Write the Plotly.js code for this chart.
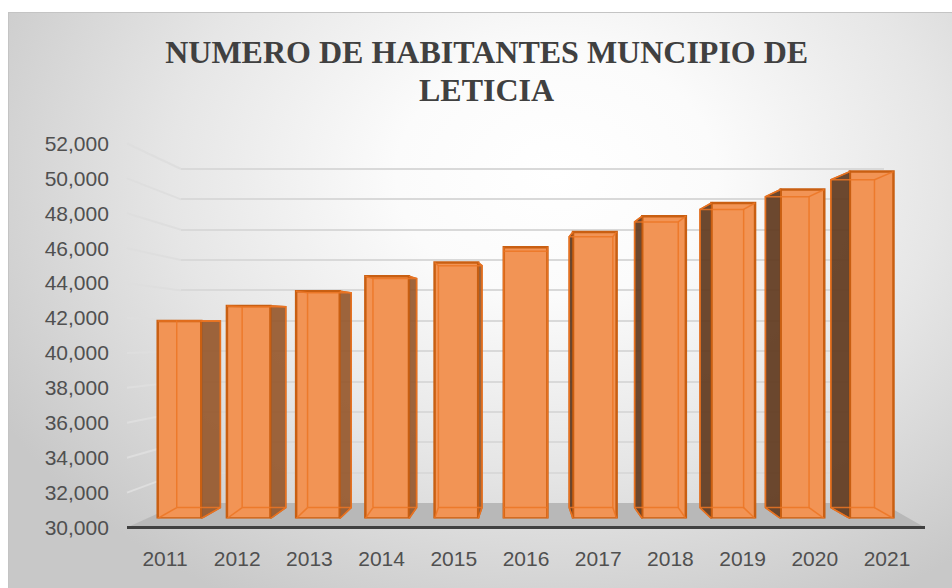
<!DOCTYPE html>
<html>
<head>
<meta charset="utf-8">
<script src="https://cdn.plot.ly/plotly-3.0.1.min.js"></script>
<style>
  html, body { margin: 0; padding: 0; background: #ffffff; }
  #wrap { position: relative; width: 952px; height: 588px; overflow: hidden; }
  #bg {
    position: absolute; left: 8px; top: 12px; width: 944px; height: 576px;
    border-left: 1px solid #c4c4c4; border-top: 1px solid #c4c4c4;
    background: radial-gradient(ellipse 68% 85% at 58% 28%, #ffffff 0%, #fbfbfb 25%, #e6e6e6 60%, #c8c8c8 100%);
  }
  #chart { position: absolute; left: 0; top: 0; width: 952px; height: 588px; }
</style>
</head>
<body>
<div id="wrap"><div id="bg"></div><div id="chart"></div></div>
<script>
// ---- data ----
const years = [2011, 2012, 2013, 2014, 2015, 2016, 2017, 2018, 2019, 2020, 2021];
const population = [41950, 42870, 43760, 44670, 45500, 46420, 47350, 48300, 49100, 49920, 51000];
const yTickValues = [30000, 32000, 34000, 36000, 38000, 40000, 42000, 44000, 46000, 48000, 50000, 52000];
const titleLines = ['NUMERO DE HABITANTES MUNCIPIO DE', 'LETICIA'];

// ---- geometry / style helpers ----
const W = 952, H = 588;
const px = p => p / W;
const py = p => 1 - p / H;
const yMin = 30000, yMax = 52000;
const barW = 0.63, half = barW / 2;
const vanishYear = 2016, depthPerYear = 0.055;
const eyeValue = 42000, backScale = 0.945;
const frontDom = [py(527.5), py(143.5)];
const backDom = [py(503), py(169)];
const backPad = 300;
const backTopPx = 169 - backPad * (503 - 169) / (yMax - yMin);

const traces = [];

traces.push({ x: years, y: population, xaxis: 'x', yaxis: 'y', type: 'scatter', mode: 'markers',
  marker: { opacity: 0 }, hoverinfo: 'skip', showlegend: false });
traces.push({ x: [0], y: [yMin], xaxis: 'x2', yaxis: 'y2', type: 'scatter', mode: 'markers',
  marker: { opacity: 0 }, hoverinfo: 'skip', showlegend: false });

traces.push({
  type: 'bar', x: years, y: population.map(v => v - yMin), base: yMin,
  xaxis: 'x3', yaxis: 'y3', width: barW,
  marker: { color: '#f29455', line: { color: '#c95f12', width: 2.5 } },
  customdata: population, hovertemplate: '%{x}: %{customdata:,}<extra></extra>',
  showlegend: false
});

const back = v => eyeValue + backScale * (v - eyeValue);
years.forEach((yr, i) => {
  const v = population[i];
  const s = depthPerYear * (vanishYear - yr);
  const bTop = back(v), bBot = back(yMin);
  const xL = yr - half, xR = yr + half;
  if (Math.abs(s) > 1e-6) {
    const edge = s > 0 ? xR : xL;
    traces.push({
      type: 'scatter', xaxis: 'x3', yaxis: 'y3', mode: 'lines', fill: 'toself',
      x: [edge, edge, edge + s, edge + s, edge],
      y: [yMin, v, bTop, bBot, yMin],
      fillcolor: s > 0 ? 'rgba(150,88,45,0.92)' : 'rgba(100,62,36,0.95)',
      line: { color: '#c95f12', width: 1.5 }, hoverinfo: 'skip', showlegend: false
    });
  }
  traces.push({
    type: 'scatter', xaxis: 'x3', yaxis: 'y3', mode: 'lines',
    x: [xL + s, xL + s, xR + s, xR + s, xL + s, null, xL, xL + s, null, xL, xL + s, null, xR, xR + s, null, xR, xR + s],
    y: [bBot, bTop, bTop, bBot, bBot, null, yMin, bBot, null, v, bTop, null, yMin, bBot, null, v, bTop],
    line: { color: 'rgba(236,118,36,0.85)', width: 1.5 }, hoverinfo: 'skip', showlegend: false
  });
});

const shapes = [];
const fy = v => frontDom[0] + (v - yMin) / (yMax - yMin) * (frontDom[1] - frontDom[0]);
const by = v => backDom[0] + (v - yMin) / (yMax - yMin) * (backDom[1] - backDom[0]);
yTickValues.slice(1).forEach(v => {
  shapes.push({ type: 'line', xref: 'paper', yref: 'paper', layer: 'below',
    x0: px(127), y0: fy(v), x1: px(181), y1: by(v), line: { color: '#dedede', width: 2 } });
});
shapes.push({ type: 'path', xref: 'paper', yref: 'paper', layer: 'below',
  path: `M ${px(127)} ${fy(yMin)} L ${px(925)} ${fy(yMin)} L ${px(882)} ${by(yMin)} L ${px(181)} ${by(yMin)} Z`,
  fillcolor: '#b8b8b8', line: { width: 0 } });
shapes.push({ type: 'line', xref: 'paper', yref: 'paper', layer: 'below',
  x0: px(127), y0: fy(yMin), x1: px(925), y1: fy(yMin), line: { color: '#404040', width: 3 } });

const tickFont = { family: 'Liberation Sans', size: 21, color: '#505050' };
const titleFont = { family: 'Liberation Serif', size: 32, color: '#404040', weight: 'bold' };

const layout = {
  width: W, height: H,
  margin: { l: 0, r: 0, t: 0, b: 0 },
  paper_bgcolor: 'rgba(0,0,0,0)', plot_bgcolor: 'rgba(0,0,0,0)',
  showlegend: false,
  title: {
    text: titleLines[0], x: 486.7 / W, xanchor: 'center', y: 1 - 52 / H, yanchor: 'middle', yref: 'container',
    font: titleFont
  },
  annotations: [{
    text: titleLines[1], xref: 'paper', yref: 'paper', x: px(486.7), y: py(89.5),
    xanchor: 'center', yanchor: 'middle', showarrow: false, font: titleFont
  }],
  xaxis: {
    domain: [px(128.9), px(923.1)], range: [2010.5, 2021.5], anchor: 'y',
    tickvals: years, ticktext: years.map(String), tickfont: tickFont,
    showgrid: false, zeroline: false, showline: false, ticks: '', ticklabelstandoff: 16, fixedrange: true
  },
  yaxis: {
    domain: frontDom, range: [yMin, yMax], anchor: 'x',
    tickvals: yTickValues, tickformat: ',d', tickfont: tickFont,
    showgrid: false, zeroline: false, showline: false, ticks: '', ticklabelstandoff: 19, fixedrange: true
  },
  xaxis2: {
    domain: [px(181), px(884)], range: [0, 1], anchor: 'y2',
    showgrid: false, zeroline: false, showticklabels: false, ticks: '', fixedrange: true
  },
  yaxis2: {
    domain: [backDom[0], py(backTopPx)], range: [yMin, yMax + backPad], anchor: 'x2',
    tickvals: yTickValues.slice(1), showgrid: true, gridcolor: '#d9d9d9', gridwidth: 2,
    zeroline: false, showticklabels: false, ticks: '', fixedrange: true
  },
  xaxis3: {
    domain: [px(144.9), px(906.3)], range: [2010.5, 2021.5], anchor: 'y3',
    showgrid: false, zeroline: false, showticklabels: false, ticks: '', fixedrange: true
  },
  yaxis3: {
    domain: [py(518.5), py(155.1)], range: [yMin, yMax], anchor: 'x3',
    showgrid: false, zeroline: false, showticklabels: false, ticks: '', fixedrange: true
  },
  barmode: 'overlay',
  shapes: shapes
};

Plotly.newPlot('chart', traces, layout, { displayModeBar: false, staticPlot: true });
</script>
</body>
</html>
